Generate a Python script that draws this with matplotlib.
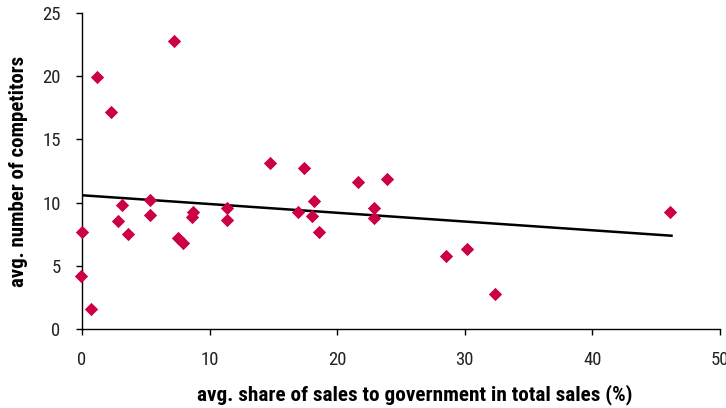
import matplotlib
matplotlib.use('Agg')
import matplotlib.pyplot as plt
from matplotlib import font_manager

# share of sales to government (%) and avg. number of competitors
share = [-0.1, 0.0, 0.7, 1.2, 2.25, 2.8, 3.1, 3.6, 5.3, 5.3,
         7.2, 7.5, 7.9, 8.6, 8.7, 11.4, 11.4, 14.7, 16.9, 17.4,
         18.2, 18.0, 18.6, 21.6, 22.9, 22.9, 23.9, 28.5, 30.2, 32.4,
         46.1]
competitors = [4.2, 7.65, 1.56, 19.96, 17.2, 8.54, 9.83, 7.52, 10.2, 9.04,
               22.8, 7.22, 6.78, 8.84, 9.26, 9.6, 8.6, 13.16, 9.26, 12.71,
               10.13, 8.92, 7.65, 11.63, 9.57, 8.8, 11.89, 5.78, 6.35, 2.79,
               9.26]

# linear trend line as drawn in the chart
trend_x = [0.0, 46.2]
trend_y = [10.58, 7.38]

xticks = [0, 10, 20, 30, 40, 50]
yticks = [0, 5, 10, 15, 20, 25]

# pick a condensed family if one is installed
cands = ['Liberation Sans Narrow', 'Roboto Condensed', 'Open Sans Condensed',
         'DejaVu Sans Condensed']
names = {f.name for f in font_manager.fontManager.ttflist}
narrow = [f.name for f in font_manager.fontManager.ttflist
          if f.stretch in ('condensed', 'semi-condensed', 'extra-condensed')
          or (isinstance(f.stretch, int) and f.stretch < 500)]
fam = next((c for c in cands if c in names), None)
stretch = 'normal'
if fam is None and narrow:
    fam = narrow[0]
    stretch = 'condensed'
if fam is None:
    fam = 'DejaVu Sans'
plt.rcParams['font.family'] = [fam, 'DejaVu Sans']
plt.rcParams['font.stretch'] = stretch

fig = plt.figure(figsize=(7.26, 4.08), dpi=100)
ax = fig.add_axes([82 / 726, 1 - 329 / 408, (720 - 82) / 726, (329 - 13) / 408])

ax.plot(trend_x, trend_y, c='black', lw=1.8, zorder=2)
ax.scatter(share, competitors, marker='D', s=46, c='#CC0044', lw=0,
           zorder=3, clip_on=False)

ax.set_xlim(0, 50)
ax.set_ylim(0, 25)
ax.set_xticks(xticks)
ax.set_yticks(yticks)
ax.spines['top'].set_visible(False)
ax.spines['right'].set_visible(False)
for s in ('left', 'bottom'):
    ax.spines[s].set_linewidth(1.0)
ax.tick_params(direction='out', length=4.3, width=1, labelsize=13.5,
               colors='black', labelcolor='#222222')
ax.tick_params(axis='x', pad=11.5)
ax.tick_params(axis='y', pad=11)

ax.set_xlabel('avg. share of sales to government in total sales (%)',
              fontsize=15.3, fontweight='bold')
ax.xaxis.set_label_coords(0.522, -0.225)
ax.xaxis.label.set_va('baseline')
ax.set_ylabel('avg. number of competitors', fontsize=15, fontweight='bold',
              labelpad=10)

fig.savefig('out.png', dpi=100)
